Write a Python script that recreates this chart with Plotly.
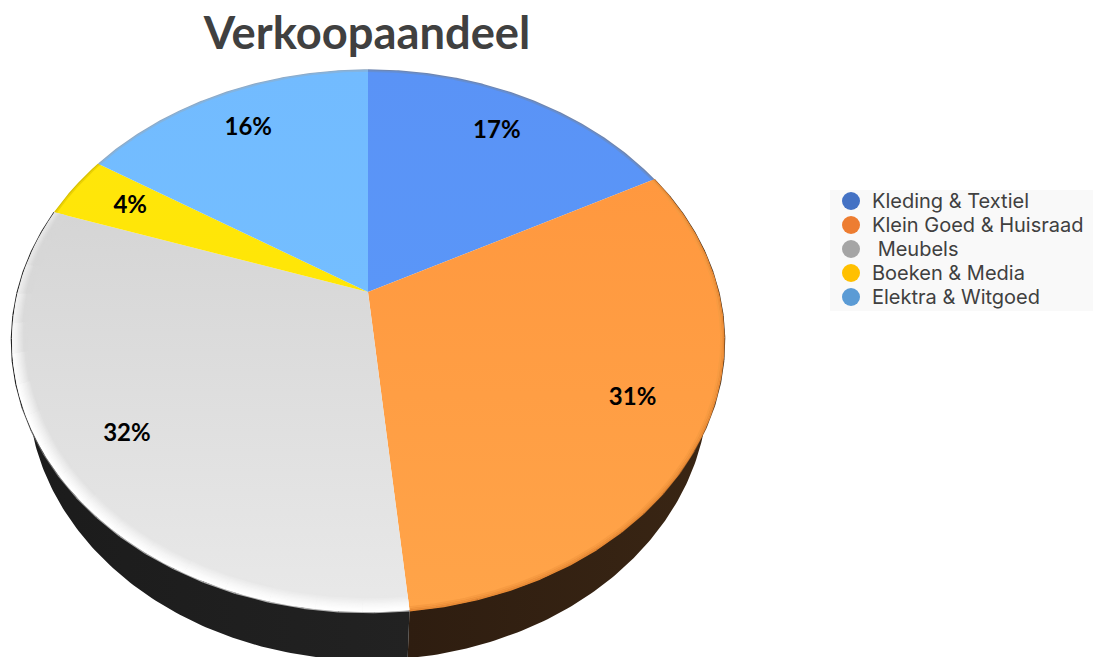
import numpy as np
import plotly.graph_objects as go

title = "Verkoopaandeel"
categories = ["Kleding & Textiel", "Klein Goed & Huisraad", " Meubels", "Boeken & Media", "Elektra & Witgoed"]
shares = [17.3, 31.15, 31.75, 3.8, 16.0]
legend_colors = ["#4472C4", "#ED7D31", "#A5A5A5", "#FFC000", "#5B9BD5"]
top_gradients = [("#5A93F6", "#5A96F8"), ("#FF983F", "#FFA449"), ("#D5D5D5", "#E9E9E9"),
                 ("#FFE60A", "#FFE606"), ("#72BBFF", "#74BEFF")]

W, H = 1093, 657
CX, AX, BX, K = 368.0, 292.0, 350.0, -0.181
AY = 262.0
LOW_AX, LOW_BX, LOW_AY = 339.0, 334.5, 263.0
LEG_LEFT, LEG_TOP, LEG_ROW, LEG_PAD = 830, 190, 24, 11


def project(theta, r=1.0, apex=AX, bx=BX, ay=AY):
    """Perspective view of a flat disc; theta clockwise from 12 o'clock."""
    u, v = r * np.sin(theta), -r * np.cos(theta)
    d = 1 + K * v
    return CX + bx * u / d, apex + ay * v / d


def lerp_color(a, b, t):
    pa = [int(a[i:i + 2], 16) for i in (1, 3, 5)]
    pb = [int(b[i:i + 2], 16) for i in (1, 3, 5)]
    return "#%02X%02X%02X" % tuple(round(x + (y - x) * t) for x, y in zip(pa, pb))


def line(x, y, color, width):
    fig.add_trace(go.Scatter(x=x, y=y, mode="lines", showlegend=False, hoverinfo="skip",
                             line=dict(width=width, color=color)))


edges = 2 * np.pi * np.concatenate([[0], np.cumsum(shares)]) / sum(shares)
fig = go.Figure()

# side wall, split where the orange and grey slices meet
for start, stop, c0, c1 in [
    (edges[1], edges[2], "#3A2614", "#2E1D10"),
    (edges[2], edges[3], "#222222", "#1B1B1B"),
]:
    t = np.linspace(start, stop, 160)
    x1, y1 = project(t)
    x2, y2 = project(t, apex=LOW_AX, bx=LOW_BX, ay=LOW_AY)
    fig.add_trace(go.Scatter(
        x=np.concatenate([x1, x2[::-1]]), y=np.concatenate([y1, y2[::-1]]),
        mode="lines", line=dict(width=0), fill="toself", showlegend=False, hoverinfo="skip",
        fillgradient=dict(type="horizontal", colorscale=[[0, c1], [1, c0]]),
    ))

# dark hairline along the outer rim where the wall just shows
for (start, stop, dark, light) in [(edges[1], edges[2], "#3A2614", "#E88A35"),
                                   (edges[2], edges[3], "#222222", "#B0B0B0")]:
    t = np.linspace(start, stop, 25)
    for j in range(24):
        mid = (t[j] + t[j + 1]) / 2
        f = np.clip(abs(np.sin(mid)) ** 6 * 1.4, 0, 1)
        x, y = project(t[j:j + 2], r=1.002)
        line(x, y, lerp_color(light, dark, f), 1.4)

# top faces (the y axis runs downward, so the gradient stops are swapped)
for i, name in enumerate(categories):
    t = np.linspace(edges[i], edges[i + 1], 160)
    x, y = project(t)
    fig.add_trace(go.Scatter(
        x=np.concatenate([[CX], x, [CX]]), y=np.concatenate([[AX], y, [AX]]),
        mode="lines", line=dict(width=0), fill="toself", showlegend=False, hoverinfo="skip",
        fillgradient=dict(type="vertical", colorscale=[[0, top_gradients[i][1]], [1, top_gradients[i][0]]]),
    ))

# soft bevel along the rim of each slice
bevels = [("#6F86B0", 0.010, 2), ("#E88A35", 0.012, 3), ("#D8C000", 0.008, 2), ("#8FA9C4", 0.008, 2)]
for i, (tone, depth, steps) in zip([0, 1, 3, 4], bevels):
    t = np.linspace(edges[i], edges[i + 1], 160)
    for s in range(steps):
        f = s / steps
        x, y = project(t, r=1 - depth * f)
        line(x, y, lerp_color(tone, top_gradients[i][1], f), 1.6)

# white bevel of the grey slice, fading out towards its upper end
rings, segs = 12, 18
t = np.linspace(edges[2], edges[3], segs + 1)
_, grey_y = project(np.linspace(edges[2], edges[3], 160))
grey_top, grey_bottom = min(AX, grey_y.min()), max(AX, grey_y.max())
for s in range(rings):
    f = s / (rings - 1)
    for j in range(segs):
        tt = np.linspace(t[j], t[j + 1], 20)
        fade = np.clip((edges[3] - tt[10]) / (edges[3] - np.deg2rad(250)), 0.25, 1)
        x, y = project(tt, r=0.998 - 0.036 * f)
        base = lerp_color(top_gradients[2][0], top_gradients[2][1],
                          (y.mean() - grey_top) / (grey_bottom - grey_top))
        shade = lerp_color("#FFFFFF", base, min(1.0, f ** 1.3 + (1 - fade) * 0.8))
        line(x, y, shade, 2)

# percentage labels
mids = (edges[:-1] + edges[1:]) / 2
lx, ly = project(mids, r=0.8)
fig.add_trace(go.Scatter(
    x=lx, y=ly, mode="text", text=[f"{round(v)}%" for v in shares], showlegend=False, hoverinfo="skip",
    textfont=dict(family="Lato", size=24, color="#000000", weight="bold"),
))

# legend, drawn by hand for its tight row spacing
rows = LEG_TOP + LEG_PAD + LEG_ROW * np.arange(len(categories))
fig.add_trace(go.Scatter(
    x=[LEG_LEFT + 21] * len(categories), y=rows, mode="markers", showlegend=False, hoverinfo="skip",
    marker=dict(size=18, color=legend_colors, line=dict(width=0)),
))
fig.add_trace(go.Scatter(
    x=[LEG_LEFT + 42] * len(categories), y=rows + 1.5, mode="text", text=categories, textposition="middle right",
    showlegend=False, hoverinfo="skip", cliponaxis=False,
    textfont=dict(family="Inter", size=20, color="#404040"),
))

fig.update_layout(
    width=W, height=H, margin=dict(l=0, r=0, t=0, b=0),
    paper_bgcolor="white", plot_bgcolor="white",
    xaxis=dict(range=[0, W], visible=False, fixedrange=True),
    yaxis=dict(range=[H, 0], visible=False, fixedrange=True),
    title=dict(text=f"<b>{title}</b>", x=367 / W, xanchor="center", y=1 - 33 / H, yanchor="middle",
               font=dict(family="Lato", size=45.3, color="#404040")),
    shapes=[dict(type="rect", layer="below", xref="x", yref="y", x0=LEG_LEFT, x1=W,
                 y0=LEG_TOP, y1=LEG_TOP + 2 * LEG_PAD + LEG_ROW * (len(categories) - 1) + 3,
                 fillcolor="#F9F9F9", line=dict(width=0))],
    showlegend=False,
)
fig.write_html("out.html", config={"displayModeBar": False},
               post_script="document.body.style.margin='0';")
